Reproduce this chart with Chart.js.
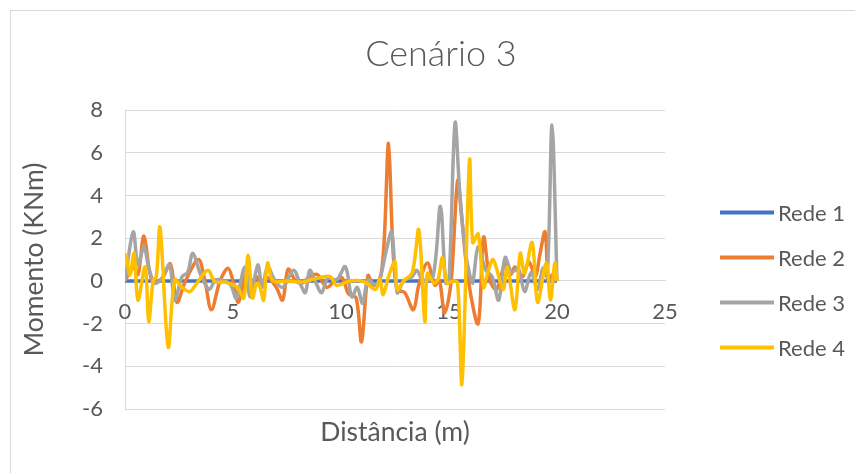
<!DOCTYPE html>
<html>
<head>
<meta charset="utf-8">
<script src="https://cdn.jsdelivr.net/npm/chart.js@4/dist/chart.umd.min.js"></script>
<style>
  html, body { margin: 0; padding: 0; background: #fff; overflow: hidden; width: 855px; height: 473px; }
  #frame { position: absolute; left: 10px; top: 10px; width: 900px; height: 500px; border: 1px solid #d9d9d9; box-sizing: border-box; }
  #wrap { position: absolute; left: 0; top: 0; width: 882px; height: 473px; }
</style>
</head>
<body>
<div id="frame"></div>
<div id="wrap"><canvas id="c"></canvas></div>
<script>
// Bending moment along the beam, [distância (m), momento (KNm)]
const rede1 = [[0, 0], [5, 0], [10, 0], [15, 0], [20, 0]];

const rede2 = [
  [0, 0], [0.38, 0.67], [0.6, 0.3], [0.88, 2.1], [1.25, 0.0], [1.7, 0.1], [2.1, 0.8], [2.4, -1.0],
  [2.8, 0.0], [3.4, 1.0], [3.7, 0.0], [4.0, -1.35], [4.4, 0.0], [4.77, 0.6], [5.0, 0.0], [5.25, -1.0],
  [5.6, 0.3], [5.8, -0.1], [6.1, 0.2], [6.3, -0.3], [6.6, 0.15], [7.0, -0.3], [7.3, -0.9], [7.55, 0.55],
  [7.9, 0.0], [8.2, -0.1], [8.55, 0.2], [8.9, 0.3], [9.35, -0.3], [9.7, 0.0], [10.05, 0.15], [10.35, -0.6],
  [10.7, -0.8], [10.95, -2.85], [11.25, 0.25], [11.5, -0.2], [11.8, 0.0], [12.0, 1.9], [12.2, 6.45],
  [12.4, 1.6], [12.6, -0.4], [12.95, -0.55], [13.35, -1.35], [13.6, -0.2], [14.0, 0.84], [14.35, -0.2],
  [14.55, 0.05], [14.8, -1.5], [15.1, 0.0], [15.4, 4.7], [15.6, 2.85], [15.9, 0.0], [16.35, -2.0],
  [16.6, 2.05], [16.9, 0.0], [17.2, -0.4], [17.6, 0.8], [17.85, 0.3], [18.05, 0.65], [18.4, 0.2],
  [18.7, 0.9], [19.0, 0.2], [19.2, 1.2], [19.45, 2.3], [19.6, 0.0], [19.8, 0.3], [20, 0]
];

const rede3 = [
  [0, 0], [0.38, 2.3], [0.6, 0.75], [0.88, 1.6], [1.1, 0.6], [1.38, -0.1], [1.7, 0.1], [2.06, 0.75],
  [2.3, -0.9], [2.64, 0.2], [2.9, 0.4], [3.14, 1.3], [3.5, 0.3], [3.9, -0.4], [4.2, 0.05], [4.6, 0.0],
  [4.9, -0.2], [5.15, -0.8], [5.55, 0.65], [5.8, -0.75], [6.15, 0.75], [6.35, -0.3], [6.6, 0.67],
  [6.9, 0.1], [7.3, -0.3], [7.8, 0.5], [8.1, -0.1], [8.35, -0.55], [8.55, 0.5], [8.8, 0.0], [9.1, -0.55],
  [9.4, 0.15], [9.8, 0.05], [10.2, 0.67], [10.5, -0.75], [10.75, -0.3], [11.0, -1.05], [11.25, 0.05],
  [11.6, -0.2], [11.85, 0.3], [12.1, 1.45], [12.35, 2.3], [12.6, -0.55], [12.9, 0.0], [13.3, 0.2],
  [13.5, 0.5], [13.8, 0.05], [14.26, 0.2], [14.6, 3.5], [14.85, -0.1], [15.0, 0.0], [15.28, 7.4],
  [15.5, 4.1], [15.75, 1.45], [16.0, 0.1], [16.1, -0.1], [16.35, 1.6], [16.7, 0.5], [17.0, 0.2],
  [17.3, -0.9], [17.6, 1.1], [17.9, 0.4], [18.2, 0.6], [18.5, -0.5], [18.8, 0.4], [19.1, -0.4],
  [19.35, 0.6], [19.55, 0.2], [19.77, 7.3], [20.0, 0]
];

const rede4 = [
  [0.05, 1.3], [0.23, 0.28], [0.42, 1.3], [0.6, -0.9], [0.93, 0.66], [1.1, -1.9], [1.3, 0.0], [1.45, 0.2],
  [1.62, 2.5], [2.0, -3.1], [2.3, 0.05], [2.64, -0.3], [3.0, -0.5], [3.33, -0.1], [3.84, 0.5],
  [4.17, -0.05], [4.63, -0.05], [5.2, -0.3], [5.5, -0.8], [5.7, 1.2], [5.9, -0.8], [6.1, -0.1],
  [6.25, -0.3], [6.42, -0.9], [6.6, 0.84], [6.85, 0.0], [7.5, 0.0], [8.2, -0.05], [9.0, 0.15],
  [9.5, 0.2], [9.8, -0.2], [10.4, 0.0], [11.1, -0.05], [11.6, -0.4], [11.8, 0.1], [11.95, -0.65],
  [12.2, 0.2], [12.5, 0.9], [12.6, -0.4], [12.9, 0.0], [13.3, 0.4], [13.6, 2.4], [13.88, -1.9],
  [14.0, 0.35], [14.3, -0.1], [14.5, 0.1], [14.7, 1.1], [14.9, -0.1], [15.2, 0.0], [15.4, -0.1],
  [15.6, -4.8], [15.95, 5.65], [16.1, 1.8], [16.35, 2.2], [16.6, -0.3], [16.8, 0.4], [17.05, 1.0],
  [17.5, -0.4], [17.7, 0.65], [18.05, -1.35], [18.3, 1.3], [18.5, 0.37], [18.85, 1.8], [19.1, -1.0],
  [19.5, 0.84], [19.7, -0.9], [19.9, 0.84], [20.0, 0]
];

const seriesNames = ['Rede 1', 'Rede 2', 'Rede 3', 'Rede 4'];
const seriesData = [rede1, rede2, rede3, rede4];
const seriesColors = ['#4472C4', '#ED7D31', '#A5A5A5', '#FFC000'];

const xTicks = { min: 0, max: 25, step: 5 };
const yTicks = { min: -6, max: 8, step: 2 };

const textColor = '#595959';
const gridColor = '#d9d9d9';
const fontFamily = 'Lato, "Open Sans", sans-serif';

const toPoints = arr => arr.map(([x, y]) => ({ x, y }));

// Legend drawn as a vertical list to the right of the plot
const sideLegend = {
  id: 'sideLegend',
  afterDraw(chart) {
    const ctx = chart.ctx;
    ctx.save();
    chart.data.datasets.forEach((ds, i) => {
      const y = 212.5 + i * 45;
      ctx.strokeStyle = ds.borderColor;
      ctx.lineWidth = 4;
      ctx.lineCap = 'butt';
      ctx.beginPath();
      ctx.moveTo(720, y);
      ctx.lineTo(774, y);
      ctx.stroke();
      ctx.fillStyle = textColor;
      ctx.font = '22px ' + fontFamily;
      ctx.textBaseline = 'middle';
      ctx.textAlign = 'left';
      ctx.fillText(ds.label, 778, y + 1);
    });
    ctx.restore();
  }
};

new Chart(document.getElementById('c'), {
  type: 'scatter',
  data: {
    datasets: seriesNames.map((name, i) => ({
      label: name,
      data: toPoints(seriesData[i]),
      showLine: true,
      borderColor: seriesColors[i],
      backgroundColor: seriesColors[i],
      borderWidth: 3.5,
      pointRadius: 0,
      pointHoverRadius: 0,
      tension: 0.33,
      fill: false,
      order: seriesNames.length - i
    }))
  },
  options: {
    responsive: true,
    maintainAspectRatio: false,
    devicePixelRatio: 1,
    animation: false,
    events: [],
    layout: { padding: 0 },
    plugins: {
      legend: { display: false },
      tooltip: { enabled: false },
      title: {
        display: true,
        text: 'Cenário 3',
        color: textColor,
        font: { family: fontFamily, size: 36, weight: 300 },
        padding: { top: 33, bottom: 34 }
      }
    },
    scales: {
      y: {
        type: 'linear',
        position: 'left',
        min: yTicks.min,
        max: yTicks.max,
        ticks: { stepSize: yTicks.step, color: textColor, font: { family: fontFamily, size: 22 }, padding: 22 },
        grid: { color: gridColor, lineWidth: 1, drawTicks: false },
        border: { display: true, color: gridColor, width: 1 },
        title: {
          display: true,
          text: 'Momento (KNm)',
          color: textColor,
          font: { family: fontFamily, size: 26.5 },
          padding: { top: 19, bottom: 0 }
        },
        afterFit(scale) { scale.width = 125; }
      },
      // empty band on the right that holds the legend
      yRight: {
        type: 'linear',
        axis: 'y',
        position: 'right',
        min: yTicks.min,
        max: yTicks.max,
        ticks: { display: false },
        grid: { display: false, drawTicks: false },
        border: { display: false },
        afterFit(scale) { scale.width = 217; }
      },
      x: {
        type: 'linear',
        position: { y: 0 },
        min: xTicks.min,
        max: xTicks.max,
        ticks: { stepSize: xTicks.step, color: textColor, font: { family: fontFamily, size: 22 }, padding: 18 },
        grid: { display: false, drawTicks: false },
        border: { display: true, color: gridColor, width: 1 }
      },
      x2: {
        type: 'linear',
        axis: 'x',
        position: 'bottom',
        min: xTicks.min,
        max: xTicks.max,
        ticks: { display: false },
        grid: { display: false, drawTicks: false },
        border: { display: false },
        title: {
          display: true,
          text: 'Distância (m)',
          color: textColor,
          font: { family: fontFamily, size: 26.5 },
          padding: { top: 0, bottom: 25 }
        },
        afterFit(scale) { scale.height = 64; }
      }
    }
  },
  plugins: [sideLegend]
});
</script>
</body>
</html>
